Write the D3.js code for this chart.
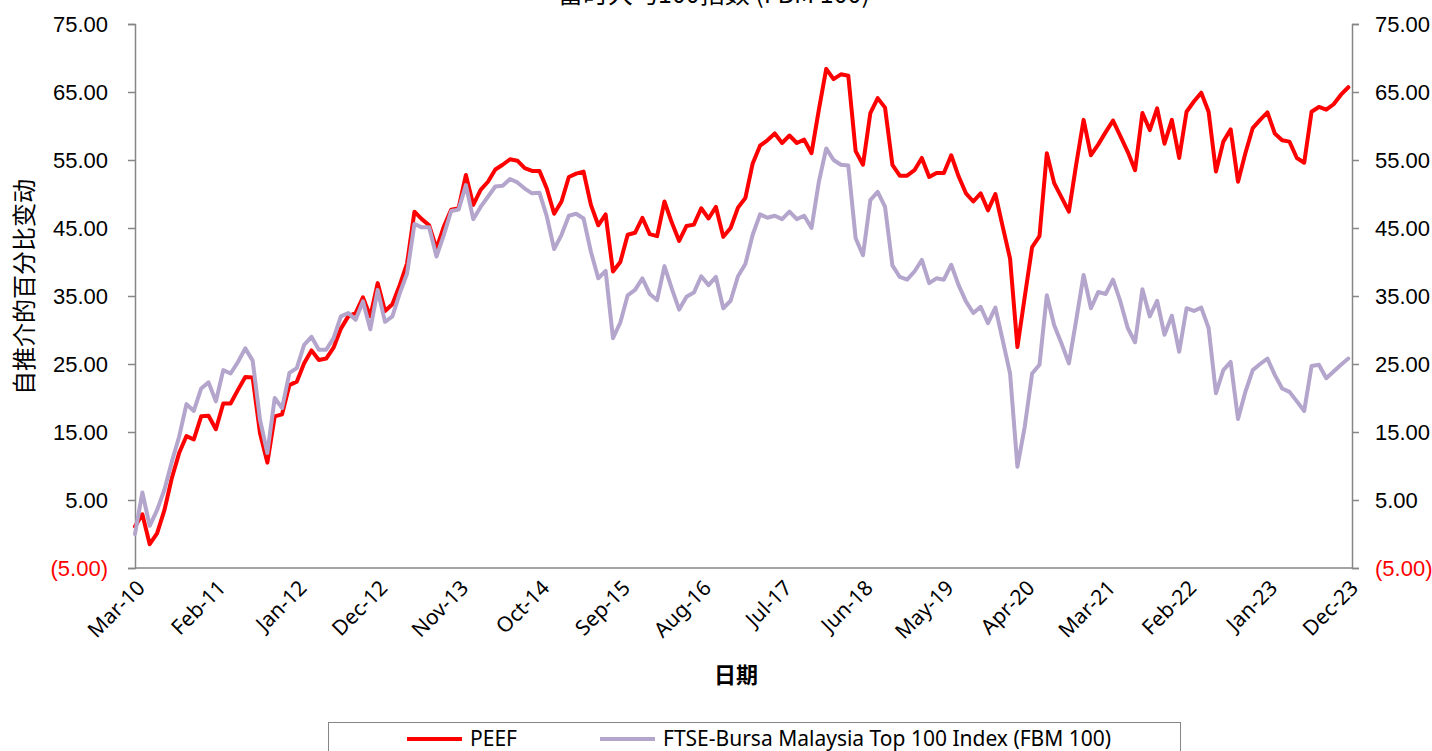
<!DOCTYPE html>
<html>
<head>
<meta charset="utf-8">
<script src="https://cdn.jsdelivr.net/npm/d3@7"></script>
<style>
  html, body { margin: 0; padding: 0; background: #fff; }
  svg { display: block; font-family: "Noto Sans", "Noto Sans CJK SC", sans-serif; }
</style>
</head>
<body>
<svg id="chart"></svg>
<script>
// monthly points, Mar-10 .. Dec-23 (166 months)
const tickLabels = ['Mar-10', 'Feb-11', 'Jan-12', 'Dec-12', 'Nov-13', 'Oct-14', 'Sep-15', 'Aug-16',
  'Jul-17', 'Jun-18', 'May-19', 'Apr-20', 'Mar-21', 'Feb-22', 'Jan-23', 'Dec-23'];
const tickStep = 11;

const peef = [
  1.1, 2.9, -1.5, 0.1, 3.5, 8.2, 11.9, 14.4, 13.9, 17.3,
  17.4, 15.4, 19.2, 19.2, 21.2, 23.1, 23.0, 14.8, 10.5, 17.3,
  17.6, 21.9, 22.4, 25.1, 27.0, 25.6, 25.8, 27.4, 30.2, 32.0,
  32.5, 34.8, 32.0, 36.9, 32.8, 33.8, 36.6, 39.8, 47.4, 46.3,
  45.4, 42.0, 45.2, 47.7, 47.9, 52.8, 48.4, 50.6, 51.8, 53.6,
  54.3, 55.1, 54.9, 53.8, 53.4, 53.4, 50.8, 47.1, 48.9, 52.5,
  53.0, 53.3, 48.4, 45.4, 47.0, 38.6, 40.0, 44.0, 44.3, 46.5,
  44.1, 43.8, 48.9, 45.8, 43.1, 45.3, 45.5, 47.9, 46.4, 48.1,
  43.7, 45.0, 48.0, 49.4, 54.5, 57.1, 57.9, 58.9, 57.5, 58.6,
  57.5, 58.0, 56.0, 62.4, 68.4, 66.9, 67.6, 67.4, 56.3, 54.3,
  61.9, 64.1, 62.7, 54.3, 52.7, 52.7, 53.5, 55.3, 52.5, 53.1,
  53.1, 55.7, 52.6, 50.1, 48.9, 50.1, 47.6, 50.0, 45.2, 40.5,
  27.5, 34.9, 42.2, 43.8, 56.0, 51.6, 49.5, 47.4, 54.4, 60.9,
  55.7, 57.3, 59.1, 60.8, 58.5, 56.2, 53.5, 61.9, 59.4, 62.6,
  57.4, 60.9, 55.3, 62.1, 63.6, 64.9, 62.1, 53.3, 57.7, 59.5,
  51.8, 56.0, 59.7, 60.9, 62.0, 58.9, 57.9, 57.7, 55.3, 54.6,
  62.1, 62.8, 62.4, 63.2, 64.6, 65.7
];

const fbm100 = [
  0.0, 6.1, 1.2, 3.5, 6.5, 10.6, 14.3, 19.1, 18.1, 21.4,
  22.3, 19.5, 24.1, 23.6, 25.3, 27.3, 25.5, 16.8, 11.9, 20.0,
  18.5, 23.7, 24.4, 27.8, 29.0, 27.1, 27.1, 28.8, 32.0, 32.5,
  31.5, 34.2, 30.1, 35.9, 31.2, 32.0, 35.4, 38.3, 45.6, 45.1,
  45.1, 40.8, 44.0, 47.5, 47.7, 51.3, 46.3, 48.1, 49.6, 51.1,
  51.2, 52.2, 51.7, 50.8, 50.1, 50.2, 46.7, 41.9, 44.0, 46.8,
  47.1, 46.4, 41.5, 37.6, 38.7, 28.8, 31.1, 35.1, 35.9, 37.6,
  35.3, 34.4, 39.4, 36.1, 33.0, 34.9, 35.5, 37.9, 36.6, 37.8,
  33.2, 34.3, 37.9, 39.7, 44.0, 47.0, 46.5, 46.8, 46.3, 47.4,
  46.3, 46.8, 45.0, 51.8, 56.7, 55.0, 54.3, 54.2, 43.5, 41.0,
  49.1, 50.3, 48.1, 39.5, 37.8, 37.4, 38.6, 40.3, 36.9, 37.6,
  37.4, 39.6, 36.6, 34.2, 32.5, 33.4, 31.0, 33.3, 28.5, 23.6,
  9.9, 15.8, 23.6, 24.9, 35.1, 30.7, 28.0, 25.1, 31.5, 38.1,
  33.2, 35.6, 35.3, 37.4, 34.2, 30.3, 28.2, 36.0, 32.0, 34.3,
  29.3, 32.1, 26.8, 33.2, 32.8, 33.3, 30.3, 20.7, 24.1, 25.3,
  16.9, 20.9, 24.1, 25.0, 25.8, 23.4, 21.4, 20.9, 19.5, 18.1,
  24.7, 24.9, 22.9, 23.9, 24.9, 25.8
];

const yTicks = [-5, 5, 15, 25, 35, 45, 55, 65, 75];

const seriesNames = ['PEEF', 'FTSE-Bursa Malaysia Top 100 Index (FBM 100)'];
const seriesColors = ['#ff0000', '#b3a5cc'];
const chartTitle = '富时大马100指数 (FBM 100)';
const yTitle = '自推介的百分比变动';
const xTitle = '日期';

const width = 1432;
const height = 751;
const plot = { left: 135, right: 1352, top: 24, bottom: 568 };
const axisColor = '#868686';

const svg = d3.select('#chart')
  .attr('width', width)
  .attr('height', height);

const x = d3.scaleLinear()
  .domain([0, peef.length - 0.5])
  .range([plot.left, plot.right]);

const y = d3.scaleLinear()
  .domain([-5, 75])
  .range([plot.bottom, plot.top]);

const fmt = v => v < 0 ? `(${d3.format('.2f')(-v)})` : d3.format('.2f')(v);

// left axis
const leftAxis = svg.append('g')
  .attr('transform', `translate(${plot.left},0)`)
  .call(d3.axisLeft(y).tickValues(yTicks).tickSize(7).tickPadding(20).tickFormat(fmt));

// right axis
const rightAxis = svg.append('g')
  .attr('transform', `translate(${plot.right},0)`)
  .call(d3.axisRight(y).tickValues(yTicks).tickSize(7).tickPadding(16).tickFormat(fmt));

[leftAxis, rightAxis].forEach(g => {
  g.select('.domain').attr('stroke', axisColor).attr('stroke-width', 1.5);
  g.selectAll('.tick line').attr('stroke', axisColor).attr('stroke-width', 1.5);
  g.selectAll('.tick text')
    .attr('font-size', 22)
    .attr('fill', d => d < 0 ? '#ff0000' : '#000');
});

// bottom axis
svg.append('line')
  .attr('x1', plot.left).attr('x2', plot.right)
  .attr('y1', plot.bottom).attr('y2', plot.bottom)
  .attr('stroke', axisColor)
  .attr('stroke-width', 1.5);

svg.append('g')
  .selectAll('text')
  .data(tickLabels)
  .join('text')
  .attr('transform', (d, i) => `translate(${x(i * tickStep) + 6},${plot.bottom + 16}) rotate(-45)`)
  .attr('text-anchor', 'end')
  .attr('dy', '0.35em')
  .attr('font-size', 21)
  .attr('fill', '#000')
  .text(d => d);

// lines
const line = d3.line()
  .x((d, i) => x(i))
  .y(d => y(d))
  .curve(d3.curveLinear);

[peef, fbm100].forEach((s, i) => {
  svg.append('path')
    .datum(s)
    .attr('fill', 'none')
    .attr('stroke', seriesColors[i])
    .attr('stroke-width', 4)
    .attr('stroke-linejoin', 'round')
    .attr('stroke-linecap', 'round')
    .attr('d', line);
});

// titles (the chart title sits mostly above the page edge, as in the source)
svg.append('text')
  .attr('x', 714)
  .attr('y', 3)
  .attr('text-anchor', 'middle')
  .attr('font-family', '"Noto Sans CJK SC", "Noto Sans", sans-serif')
  .attr('font-size', 25)
  .attr('fill', '#000')
  .text(chartTitle);

svg.append('text')
  .attr('transform', 'translate(25,287) rotate(-90)')
  .attr('text-anchor', 'middle')
  .attr('dy', '0.35em')
  .attr('font-family', '"Noto Sans CJK SC", sans-serif')
  .attr('font-size', 24)
  .attr('fill', '#000')
  .text(yTitle);

svg.append('text')
  .attr('x', 736)
  .attr('y', 675)
  .attr('text-anchor', 'middle')
  .attr('dy', '0.35em')
  .attr('font-family', '"Noto Sans CJK SC", sans-serif')
  .attr('font-size', 22)
  .attr('font-weight', 'bold')
  .attr('fill', '#000')
  .text(xTitle);

// legend
const legend = svg.append('g');
legend.append('rect')
  .attr('x', 328.5).attr('y', 722.5)
  .attr('width', 852).attr('height', 40)
  .attr('fill', '#fff')
  .attr('stroke', axisColor)
  .attr('stroke-width', 1);

const legendX = [407, 600];
seriesNames.forEach((name, i) => {
  legend.append('line')
    .attr('x1', legendX[i]).attr('x2', legendX[i] + 55)
    .attr('y1', 739).attr('y2', 739)
    .attr('stroke', seriesColors[i])
    .attr('stroke-width', 4);
  legend.append('text')
    .attr('x', legendX[i] + 63)
    .attr('y', 739)
    .attr('dy', '0.35em')
    .attr('font-size', 21)
    .attr('fill', '#000')
    .text(name);
});
</script>
</body>
</html>
